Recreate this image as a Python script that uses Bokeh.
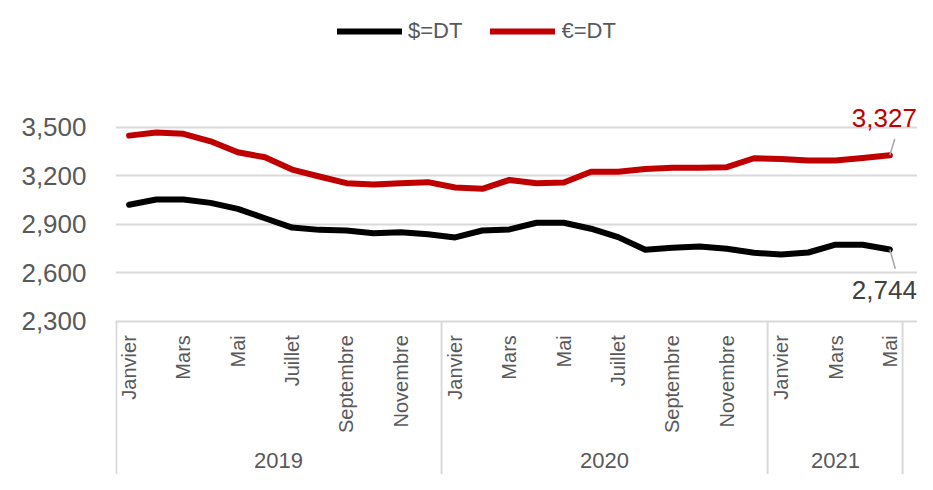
import math
from bokeh.plotting import figure
from bokeh.models import Range1d, FixedTicker, NumeralTickFormatter, Label, ColumnDataSource
from bokeh.core.properties import value
from bokeh.embed import file_html
from bokeh.resources import INLINE

# ---------------- data ----------------
month_names = ["Janvier", "Février", "Mars", "Avril", "Mai", "Juin", "Juillet",
               "Août", "Septembre", "Octobre", "Novembre", "Décembre"]
years = ["2019", "2020", "2021"]
months_per_year = [12, 12, 5]

usd_dt = [3020, 3053, 3053, 3032, 2995, 2937, 2879, 2865, 2861, 2844, 2850, 2838,
          2818, 2861, 2868, 2909, 2909, 2872, 2820, 2742, 2754, 2762, 2748, 2723,
          2713, 2725, 2773, 2773, 2744]
eur_dt = [3448, 3467, 3459, 3413, 3345, 3314, 3238, 3195, 3154, 3145, 3154, 3160,
          3127, 3119, 3174, 3154, 3158, 3224, 3224, 3242, 3249, 3249, 3253, 3308,
          3304, 3294, 3294, 3310, 3327]
y_ticks = [2300, 2600, 2900, 3200, 3500]
series_names = ["$=DT", "€=DT"]
series_colors = ["#000000", "#C00000"]

# ---------------- derived ----------------
n = len(usd_dt)
x = list(range(n))
month_labels = []
for cnt in months_per_year:
    month_labels += month_names[:cnt]
shown = [i for i in x if i % 2 == 0]

bounds = [0]
for cnt in months_per_year:
    bounds.append(bounds[-1] + cnt)
seps = [b - 0.5 for b in bounds]
seps[0] += 0.03
seps[-1] -= 0.03
year_pos = [(bounds[k] + bounds[k + 1] - 1) / 2 for k in range(len(years))]

FONT = "Liberation Sans"
TXT = "#595959"
GRID = "#d9d9d9"

W, H = 917, 474
LEFT = 115
PX_PER_CAT = 27.17          # horizontal scale (px per month)
UNITS_PER_PX = 6.186        # vertical scale
AXIS_SY = 320.7             # screen y of the category axis line (value y_ticks[0])
y_lo = y_ticks[0] - (H - AXIS_SY) * UNITS_PER_PX
y_hi = y_ticks[0] + AXIS_SY * UNITS_PER_PX
x_lo = -0.5
x_hi = x_lo + (W - LEFT) / PX_PER_CAT

p = figure(width=W, height=H, output_backend="svg", toolbar_location=None,
           x_range=Range1d(x_lo, x_hi), y_range=Range1d(y_lo, y_hi),
           x_axis_location=None, min_border_left=LEFT, min_border_right=0,
           min_border_top=0, min_border_bottom=0)
p.outline_line_color = None
p.background_fill_color = "white"
p.border_fill_color = "white"
p.xgrid.visible = False
p.ygrid.ticker = FixedTicker(ticks=y_ticks)
p.ygrid.grid_line_color = GRID
p.ygrid.grid_line_width = 2
p.ygrid.bounds = (-0.5, n - 0.5)

# y axis
ya = p.yaxis[0]
ya.ticker = FixedTicker(ticks=y_ticks)
ya.formatter = NumeralTickFormatter(format="0,0")
ya.axis_line_color = None
ya.major_tick_line_color = None
ya.minor_tick_line_color = None
ya.major_label_text_font = FONT
ya.major_label_text_font_size = "26px"
ya.major_label_text_color = TXT
ya.major_label_standoff = 23

# category axis box: separators
p.segment(x0=seps, y0=[y_ticks[0]] * len(seps), x1=seps, y1=[y_lo] * len(seps),
          line_color=GRID, line_width=2)

# month labels (rotated) and year labels
p.text(x=shown, y=[y_ticks[0]] * len(shown), text=[month_labels[i] for i in shown],
       angle=math.pi / 2, text_align="right", text_baseline="middle", y_offset=14,
       text_font=value(FONT), text_font_size=value("20px"), text_color=TXT)
p.text(x=year_pos, y=[y_ticks[0]] * len(year_pos), text=years,
       text_align="center", text_baseline="middle", y_offset=139,
       text_font=value(FONT), text_font_size=value("22px"), text_color=TXT)

# series
for vals, name, col in zip([usd_dt, eur_dt], series_names, series_colors):
    src = ColumnDataSource(dict(x=x, y=vals))
    p.line("x", "y", source=src, line_color=col, line_width=6,
           line_join="round", line_cap="round", legend_label=name)

# leader lines + last value labels
last = n - 1
p.segment(x0=[last, last], y0=[eur_dt[-1], usd_dt[-1]],
          x1=[last + 0.18, last + 0.2], y1=[eur_dt[-1] + 100, usd_dt[-1] - 120],
          line_color="#a6a6a6", line_width=1.5)
p.add_layout(Label(x=last, y=eur_dt[-1], x_offset=27, y_offset=37,
                   text=f"{eur_dt[-1]:,}", text_align="right", text_baseline="middle",
                   text_font=FONT, text_font_size="26px", text_color="#C00000"))
p.add_layout(Label(x=last, y=usd_dt[-1], x_offset=27, y_offset=-41,
                   text=f"{usd_dt[-1]:,}", text_align="right", text_baseline="middle",
                   text_font=FONT, text_font_size="26px", text_color="#404040"))

# legend
lg = p.legend[0]
lg.orientation = "horizontal"
lg.location = (222, 430)
lg.padding = 0
lg.margin = 0
lg.spacing = 28
lg.label_standoff = 6
lg.glyph_width = 65
lg.glyph_height = 22
lg.label_height = 22
lg.label_text_font = FONT
lg.label_text_font_size = "22px"
lg.label_text_color = TXT
lg.border_line_color = None
lg.background_fill_alpha = 0

open("out.html", "w").write(file_html(p, INLINE))
